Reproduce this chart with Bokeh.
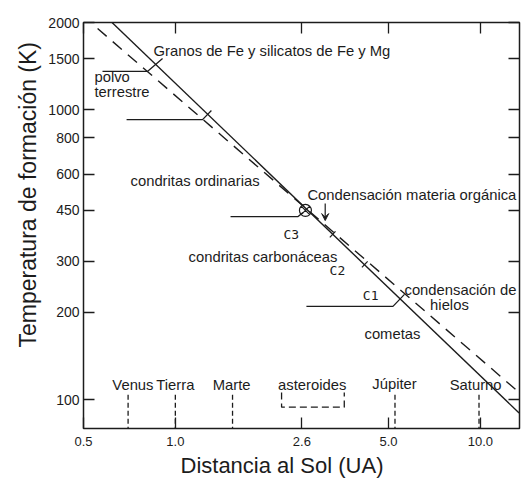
from bokeh.plotting import figure
from bokeh.models import (Range1d, FixedTicker, PrintfTickFormatter, LogAxis, Title,
                          Arrow, VeeHead, CustomJSTickFormatter)
from bokeh.core.properties import value
from bokeh.embed import file_html
from bokeh.resources import INLINE

FONT = "Liberation Sans"
INK = "#1c1c1c"

# ---- axis ticks ----
x_ticks = [0.5, 1.0, 2.6, 5.0, 10.0]
y_ticks = [100, 200, 300, 450, 600, 800, 1000, 1500, 2000]
x_lo, x_hi = 0.4999, 13.44
y_lo, y_hi = 79.6, 2000.5

# ---- condensation temperature curves (AU, K) ----
solid_r = [0.62, 13.4]
solid_T = [2000, 90]
dashed_r = [0.556, 13.4]
dashed_T = [1907, 106]

# ---- formation zones (horizontal feeding zones ending on the curve) ----
zone_r = [[0.577, 0.81, 0.908], [0.692, 1.228, 1.313], [1.517, 2.52, 2.62], [2.69, 5.17, 5.64]]
zone_T = [[1356, 1356, 1502], [925, 925, 994], [428, 428, 442], [210, 210, 231]]

# small ticks across the solid curve
mark_r = [[3.21, 3.35], [4.09, 4.27]]
mark_T = [[363, 381], [286, 300]]

# condensation of organic matter
org_r = [2.67]
org_T = [450]

# ---- planets ----
planet_r = [0.70, 1.0, 1.54, 5.25, 9.9]
planet_top = 104
planet_names = ["Venus", "Tierra", "Marte", "asteroides", "Júpiter", "Saturno"]
planet_label_r = [0.726, 1.0, 1.53, 2.81, 5.23, 9.65]
planet_label_T = [112, 112, 112, 112, 113, 112]
belt_r = [2.23, 2.23, 3.58, 3.58]
belt_T = [106, 94.3, 94.3, 106]

# ---- annotations ----
left_texts = ["Granos de Fe y silicatos de Fe y Mg", "polvo", "terrestre",
              "condritas ordinarias", "Condensación materia orgánica",
              "condritas carbonáceas", "condensación de", "cometas"]
left_r = [0.848, 0.543, 0.543, 0.713, 2.71, 1.105, 5.64, 4.17]
left_T = [1601, 1293, 1156, 570, 510, 309.6, 240, 168]
center_texts = ["hielos"]
center_r = [7.92]
center_T = [213]
c_texts = ["C3", "C2", "C1"]
c_r = [2.4, 3.4, 4.37]
c_T = [372, 279, 229]
arrow_r = 3.1
arrow_T = [475, 415]

p = figure(width=524, height=484, x_axis_type="log", y_axis_type="log",
           x_range=Range1d(x_lo, x_hi), y_range=Range1d(y_lo, y_hi),
           output_backend="svg", toolbar_location=None,
           min_border_left=83, min_border_right=5, min_border_top=22, min_border_bottom=56)
p.grid.visible = False
p.outline_line_color = INK
p.outline_line_width = 1.5
p.background_fill_color = "white"
p.border_fill_color = "white"


def style_axis(ax, ticks, fmt, standoff, size):
    ax.ticker = FixedTicker(ticks=ticks)
    ax.formatter = fmt
    ax.major_tick_in = 11
    ax.major_tick_out = 0
    ax.minor_tick_line_color = None
    ax.major_tick_line_color = INK
    ax.major_tick_line_width = 1.3
    ax.axis_line_color = None
    ax.major_label_text_font = FONT
    ax.major_label_text_font_size = size
    ax.major_label_text_color = INK
    ax.major_label_standoff = standoff


style_axis(p.xaxis[0], x_ticks, PrintfTickFormatter(format="%.1f"), 8, "13px")
style_axis(p.yaxis[0], y_ticks, PrintfTickFormatter(format="%d"), 4, "14px")

blank = CustomJSTickFormatter(code="return ''")
top = LogAxis()
right = LogAxis()
style_axis(top, x_ticks, blank, 0, "0px")
style_axis(right, y_ticks, blank, 0, "0px")
p.add_layout(top, "above")
p.add_layout(right, "right")

p.add_layout(Title(text="Distancia al Sol (UA)", align="left", offset=97,
                   text_font_size="22px", text_font=FONT, text_font_style="normal",
                   text_color=INK, standoff=4), "below")
p.add_layout(Title(text="Temperatura de formación (K)", align="left", offset=81,
                   text_font_size="23px", text_font=FONT, text_font_style="normal",
                   text_color=INK, standoff=9), "left")

# curves
p.line(solid_r, solid_T, line_color=INK, line_width=1.4)
p.line(dashed_r, dashed_T, line_color=INK, line_width=1.4, line_dash="12 8")
p.multi_line(zone_r, zone_T, line_color=INK, line_width=1.3)
p.multi_line(mark_r, mark_T, line_color=INK, line_width=1.2)
p.scatter(org_r, org_T, marker="circle_x", size=12, fill_color=None,
          line_color=INK, line_width=1.2)

# planets
p.segment(x0=planet_r, y0=[planet_top] * len(planet_r), x1=planet_r,
          y1=[y_lo] * len(planet_r), line_color=INK, line_width=1.3, line_dash="5 3")
p.line(belt_r, belt_T, line_color=INK, line_width=1.3, line_dash="7 4")

txt = dict(text_font=value(FONT), text_font_size=value("14.8px"), text_color=INK,
           text_baseline="middle")
p.text(planet_label_r, planet_label_T, text=planet_names, text_align="center", **txt)
p.text(left_r, left_T, text=left_texts, text_align="left", **txt)
p.text(center_r, center_T, text=center_texts, text_align="center", **txt)
p.text(c_r, c_T, text=c_texts, text_align="center", text_font=value("DejaVu Sans Mono"),
       text_font_size=value("13px"), text_color=INK, text_baseline="middle")

p.add_layout(Arrow(end=VeeHead(size=7, line_color=INK, fill_color=INK, line_width=1),
                   x_start=arrow_r, y_start=arrow_T[0], x_end=arrow_r, y_end=arrow_T[1],
                   line_color=INK, line_width=1.2))

open("out.html", "w").write(file_html(p, INLINE))
